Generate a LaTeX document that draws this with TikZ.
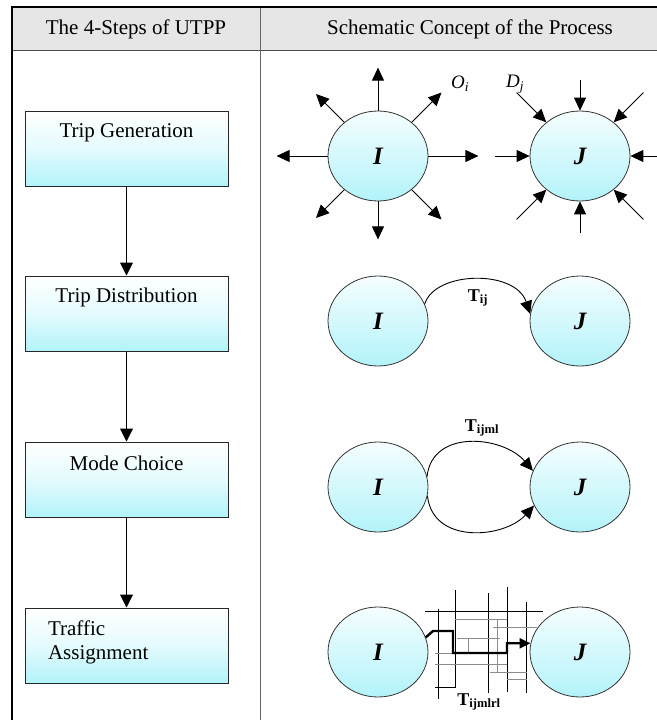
\documentclass[tikz,border=0pt]{standalone}
\usepackage{fontspec}
\setmainfont{Liberation Serif}
\usetikzlibrary{arrows.meta,shapes.geometric,positioning}

\definecolor{boxcyan}{RGB}{178,243,250}
\definecolor{headgray}{RGB}{230,230,230}

\begin{document}
\begin{tikzpicture}[x=1pt, y=1pt,
    headtext/.style={font=\fontsize{21}{25}\selectfont},
    stepbox/.style={draw=black!85, line width=1pt, top color=white, bottom color=boxcyan,
                    middle color=boxcyan!35, minimum width=203pt, minimum height=75pt, inner sep=0pt},
    steptext/.style={font=\fontsize{21}{24}\selectfont, anchor=center, yshift=-22pt},
    stepflow/.style={-{Triangle[width=13pt,length=13pt]}, line width=1pt},
    zone/.style={ellipse, draw=black!80, line width=0.8pt, top color=boxcyan!12, bottom color=boxcyan,
                 minimum width=100pt, minimum height=90pt, inner sep=0pt,
                 font=\fontsize{25}{25}\selectfont\bfseries\itshape},
    flow/.style={-{Triangle[width=12pt,length=13pt]}, line width=0.9pt},
    tlabel/.style={font=\fontsize{18}{18}\selectfont\bfseries},
    street/.style={line width=0.8pt},
    lane/.style={line width=0.7pt, black!45},
    route/.style={line width=2.4pt, -{Triangle[width=10pt,length=11pt]}},
]
\useasboundingbox (0,0) rectangle (656,-720);

% table frame and header
\fill[headgray] (12,-7) rectangle (660,-50);
\draw[black!70, line width=0.8pt] (12,-50) -- (660,-50);
\draw[black!60, line width=1pt] (260,-7) -- (260,-722);
\draw[line width=2.5pt] (12,-722) -- (12,-7) -- (660,-7);
\node[headtext] (head1) at (136,-29) {The 4-Steps of UTPP};
\node[headtext] (head2) at (470,-29) {Schematic Concept of the Process};

% left column: the four steps
\node[stepbox, label={[steptext]north:Trip Generation}] (gen) at (126.5,-148.5) {};
\node[stepbox, label={[steptext]north:Trip Distribution}] (dist) at (126.5,-313.5) {};
\node[stepbox, label={[steptext]north:Mode Choice}] (mode) at (126.5,-479.5) {};
\node[stepbox, label={[steptext, align=left, anchor=north west, xshift=20pt, yshift=12pt]north west:Traffic\\Assignment}] (assign) at (126.5,-645.5) {};

\draw[stepflow] (gen) -- (dist);
\draw[stepflow] (dist) -- (mode);
\draw[stepflow] (mode) -- (assign);

% generation: trips leave I, arrive at J
\node[zone] (i1) at (378,-156) {I};
\node[zone] (j1) at (580,-156) {J};
\foreach \a/\l in {0/50, 45/42, 90/43, 135/40, 180/51, 225/40, 270/38, 315/42}
  \draw[flow] (i1.\a) -- ++(\a:\l);
\foreach \a/\l in {0/40, 45/42, 90/31, 135/42, 180/35, 225/42, 270/32, 315/42}
  \draw[flow] ([shift={(\a:\l)}]j1.\a) -- (j1.\a);
\node[font=\fontsize{19}{19}\selectfont\itshape] (oi) at (460,-84) {O\textsubscript{i}};
\node[font=\fontsize{19}{19}\selectfont\itshape] (dj) at (515,-84) {D\textsubscript{j}};

% distribution
\node[zone] (i2) at (378,-321) {I};
\node[zone] (j2) at (580,-321) {J};
\draw[flow] (i2.20) .. controls +(10,33) and +(-15,45) .. (j2.172);
\node[tlabel] (tij) at (478,-298) {T\textsubscript{ij}};

% mode choice
\node[zone] (i3) at (378,-487) {I};
\node[zone] (j3) at (580,-487) {J};
\draw[flow] (i3.12) .. controls +(5,48) and +(-30,35) .. (j3.161);
\draw[flow] (i3.-10) .. controls +(5,-49) and +(-30,-33) .. (j3.-158);
\node[tlabel] (tijml) at (482,-428) {T\textsubscript{ijml}};

% assignment on the street network
\node[zone] (i4) at (378,-652) {I};
\node[zone] (j4) at (580,-652) {J};
\draw[street] (425,-611) -- (543,-611);
\draw[street] (438,-609) -- (438,-699);
\draw[street] (455,-590) -- (455,-687) -- (435,-687);
\draw[street] (488,-593) -- (488,-693);
\draw[street] (507,-587) -- (507,-692);
\draw[street] (526,-602) -- (526,-693);
\draw[lane] (455,-619) -- (507,-619);
\draw[lane] (493,-627) -- (537,-627);
\draw[lane] (457,-638) -- (500,-638);
\draw[lane] (435,-653) -- (455,-653);
\draw[lane] (435,-664) -- (507,-664);
\draw[lane] (490,-672) -- (527,-672);
\draw[lane] (507,-679) -- (527,-679);
\draw[lane] (468,-638) -- (468,-653);
\draw[lane] (497,-619) -- (497,-672);
\draw[route] (i4.17) -- (433,-631) -- (453,-631) -- (453,-653) -- (507,-653) |- (j4.170);
\node[tlabel] (tijmlrl) at (479,-702) {T\textsubscript{ijmlrl}};

\end{tikzpicture}
\end{document}
